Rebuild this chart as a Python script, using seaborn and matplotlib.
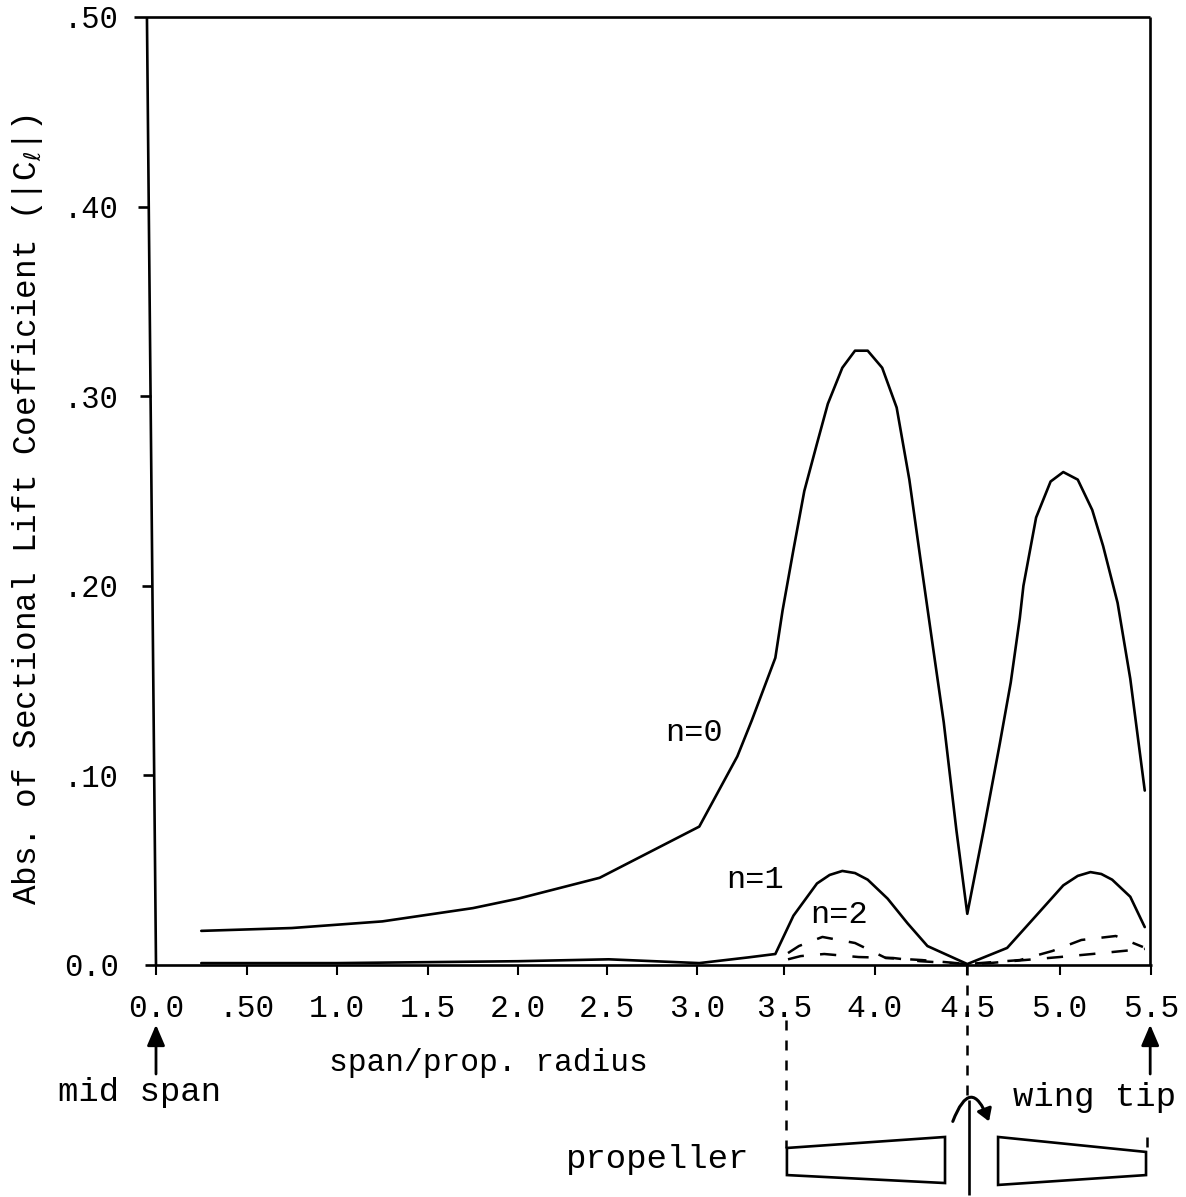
# Abs. of sectional lift coefficient along the span, scanned report figure
import numpy as np
import pandas as pd
import matplotlib
matplotlib.use("Agg")
import matplotlib.pyplot as plt
from matplotlib.patches import FancyArrowPatch, Polygon
import seaborn as sns

#%% data
x_n0 = [0.25, 0.75, 1.25, 1.75, 2.0, 2.45, 3.0, 3.21, 3.29, 3.42, 3.46, 3.52, 3.58, 3.65, 3.71, 3.79, 3.86, 3.93,
        4.01, 4.09, 4.16, 4.22, 4.29, 4.35, 4.42, 4.48, 4.57, 4.66, 4.72, 4.77, 4.79, 4.86, 4.94, 5.01, 5.09,
        5.17, 5.23, 5.31, 5.38, 5.46]
y_n0 = [.018, .0195, .023, .030, .035, .046, .073, .110, .129, .162, .187, .219, .250, .275, .296, .315, .324, .324,
        .315, .294, .256, .215, .168, .128, .071, .027, .071, .117, .149, .183, .200, .236, .255, .260, .256,
        .240, .221, .191, .151, .092]

x_n1 = [0.25, 1.0, 2.0, 2.5, 3.0, 3.27, 3.42, 3.52, 3.65, 3.72, 3.79, 3.86, 3.93, 4.04, 4.15, 4.26, 4.48, 4.70, 4.86,
        5.01, 5.09, 5.16, 5.22, 5.28, 5.38, 5.46]
y_n1 = [.001, .001, .002, .003, .001, .004, .0058, .026, .043, .0475, .0496, .0485, .045, .035, .022, .010, .0005, .009, .026,
        .042, .047, .049, .048, .045, .036, .020]

x_n2 = [3.49, 3.55, 3.68, 3.86, 4.03, 4.23, 4.48, 4.77, 4.95, 5.11, 5.30, 5.45]
y_n2 = [.0063, .010, .0148, .0116, .0037, .0026, .0005, .0026, .0074, .0132, .0153, .0095]

x_n3 = [3.49, 3.56, 3.69, 3.88, 4.07, 4.22, 4.48, 4.60, 4.99, 5.17, 5.34, 5.46]
y_n3 = [.003, .0047, .0058, .0042, .0037, .002, .0005, .001, .0042, .0058, .0074, .0085]

# tick spacing in the scan is not quite even
x_ticks = [0, .5, 1, 1.5, 2, 2.49, 2.99, 3.47, 3.97, 4.48, 4.99, 5.495]
x_labels = ["0.0", ".50", "1.0", "1.5", "2.0", "2.5", "3.0", "3.5", "4.0", "4.5", "5.0", "5.5"]
y_ticks = [0, .1, .2, .3, .4, .5]
y_labels = ["0.0", ".10", ".20", ".30", ".40", ".50"]

# propeller sketch below the axis, in span / coefficient units
blade_left = [(3.484, -.0965), (4.357, -.0907), (4.357, -.1150), (3.484, -.1108)]
blade_right = [(4.65, -.0907), (5.467, -.0986), (5.467, -.1108), (4.65, -.1160)]

#%% figure
sns.set_theme(style="white")
plt.rcParams['font.family'] = ['Liberation Mono', 'DejaVu Sans Mono']

W, H = 1186, 1197
fig = plt.figure(figsize=(W / 100, H / 100), dpi=100)
ax = fig.add_axes([156 / W, (H - 965) / H, (1152 - 156) / W, (965 - 17) / H])
ax.set_xlim(0, 5.5)
ax.set_ylim(0, .5)

lw = 1.9
solid = dict(color="black", linewidth=lw, estimator=None, sort=False, ax=ax)
sns.lineplot(data=pd.DataFrame({"x": x_n0, "y": y_n0}), x="x", y="y", **solid)
sns.lineplot(data=pd.DataFrame({"x": x_n1, "y": y_n1}), x="x", y="y", **solid)
dashed = dict(solid, linewidth=1.8, linestyle=(0, (6.5, 6.5)))
sns.lineplot(data=pd.DataFrame({"x": x_n2, "y": y_n2}), x="x", y="y", **dashed)
sns.lineplot(data=pd.DataFrame({"x": x_n3, "y": y_n3}), x="x", y="y", **dashed)

# frame, slightly skewed as in the scan
for s in ax.spines.values():
    s.set_visible(False)
frame = dict(color="black", linewidth=lw, clip_on=False, solid_capstyle="butt")
ax.plot([-.05, 0], [.5, 0], **frame)
ax.plot([-.12, 5.49], [.5, .5], **frame)
ax.plot([5.49, 5.49], [.5, 0], **frame)
ax.plot([-.06, 5.5], [0, 0], **frame)

ax.set_xticks(x_ticks)
ax.set_xticklabels(x_labels, fontsize=22.5)
ax.set_yticks(y_ticks)
ax.set_yticklabels(y_labels, fontsize=22)
ax.tick_params(axis="x", length=7, width=1.5, color="black", bottom=True, pad=14, labelcolor="black")
ax.tick_params(axis="y", length=0, left=False, pad=27, labelcolor="black")
for yt in y_ticks[1:-1]:
    lean = -.05 * (yt / .5)
    ax.plot([lean - .06, lean], [yt, yt], **frame)

ax.set_xlabel("span/prop. radius", fontsize=22.5, color="black")
ax.xaxis.set_label_coords((488 - 156) / 996, -(1063 - 965) / 948)
ax.xaxis.label.set_verticalalignment("center")
ax.set_ylabel("Abs. of Sectional Lift Coefficient (|C$_\\ell$|)", fontsize=23.5, color="black")
ax.yaxis.set_label_coords(-(156 - 28) / 996, (965 - 510) / 948)
ax.yaxis.label.set_verticalalignment("center")

# curve labels
ax.text(2.97, .1225, "n=0", fontsize=23, ha="center", va="center", color="black")
ax.text(3.31, .0447, "n=1", fontsize=23, ha="center", va="center", color="black")
ax.text(3.77, .0264, "n=2", fontsize=23, ha="center", va="center", color="black")

# labels below the axis
note = dict(fontsize=24.5, ha="center", va="center", color="black", clip_on=False)
ax.text(-.09, -.0675, "mid span", **note)
ax.text(5.18, -.0697, "wing tip", **note)
ax.text(2.77, -.1028, "propeller", **note)

arrow = dict(arrowstyle="-|>,head_length=0.7,head_width=0.3", color="black", linewidth=2,
             clip_on=False, shrinkA=0, shrinkB=0, mutation_scale=18)
ax.add_patch(FancyArrowPatch((0, -.0575), (0, -.0315), **arrow))
ax.add_patch(FancyArrowPatch((5.49, -.0575), (5.49, -.0315), **arrow))

# dashed guide lines from the axis to the propeller
guide = dict(color="black", linewidth=1.8, linestyle=(0, (4, 4)), clip_on=False)
ax.plot([3.48, 3.48], [-.029, -.0965], **guide)
ax.plot([4.48, 4.48], [0, -.0712], **guide)
ax.plot([5.47, 5.47], [-.0905, -.0986], **guide)

ax.add_patch(Polygon(blade_left, closed=True, fill=False, edgecolor="black", linewidth=lw, clip_on=False))
ax.add_patch(Polygon(blade_right, closed=True, fill=False, edgecolor="black", linewidth=lw, clip_on=False))
ax.plot([4.49, 4.49], [-.0712, -.1213], **frame)
ax.add_patch(FancyArrowPatch((4.40, -.0825), (4.60, -.0825), connectionstyle="arc3,rad=-1.3",
                             arrowstyle="-|>,head_length=0.4,head_width=0.25", color="black", linewidth=2.2,
                             clip_on=False, shrinkA=0, shrinkB=0, mutation_scale=18))

fig.savefig("out.png", dpi=100, facecolor="white")
